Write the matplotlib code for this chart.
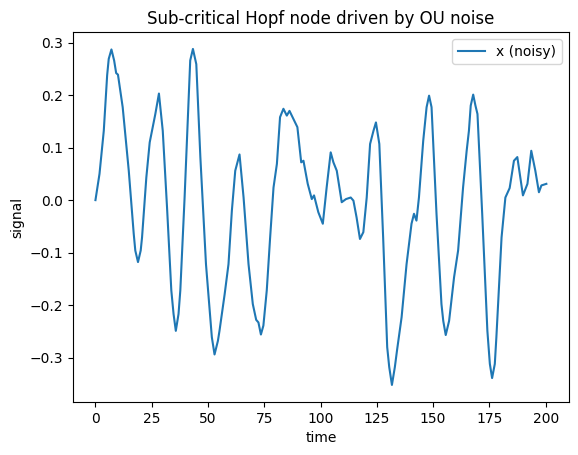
import matplotlib
matplotlib.use("Agg")
import matplotlib.pyplot as plt

# points
t = [0, 1.8, 3.7, 5.2, 5.9, 7.1, 8.3, 9.2, 10.0, 12.1, 14.8, 17.0, 17.7, 18.9, 20.1,
     20.7, 22.6, 24.1, 26.6, 28.2, 29.9, 31.8, 33.7, 34.7, 35.7, 36.9, 37.7, 39.6,
     41.4, 42.1, 43.3, 44.3, 44.8, 46.6, 49.1, 51.7, 52.9, 54.4, 55.1, 57.4, 59.1,
     60.6, 62.1, 64.0, 65.8, 68.0, 69.9, 71.4, 72.4, 73.5, 74.6, 76.1, 77.6, 79.1,
     80.6, 82.0, 83.5, 85.0, 86.2, 87.9, 89.7, 91.4, 92.4, 94.3, 96.1, 97.1, 99.0,
     101.0, 102.7, 104.5, 105.7, 107.2, 109.4, 111.3, 113.4, 114.6, 116.0, 117.5,
     119.0, 120.5, 122.0, 123.5, 124.6, 126.1, 127.8, 129.6, 130.5, 131.7, 133.0,
     134.0, 136.0, 138.2, 140.4, 141.5, 142.6, 143.7, 145.6, 147.1, 148.2, 149.3,
     151.5, 153.7, 154.5, 155.6, 157.1, 159.3, 161.1, 163.3, 164.9, 165.9, 166.7,
     167.8, 168.8, 169.7, 171.8, 174.1, 175.2, 176.2, 177.4, 178.1, 180.4, 182.1,
     184.0, 185.9, 187.4, 189.9, 191.9, 193.6, 195.4, 197.0, 198.1, 200.3]
x = [0.0, 0.05, 0.132, 0.238, 0.269, 0.287, 0.266, 0.242, 0.239, 0.177, 0.056, -0.064,
     -0.096, -0.118, -0.096, -0.071, 0.043, 0.110, 0.164, 0.203, 0.132, -0.014,
     -0.172, -0.217, -0.249, -0.217, -0.172, 0.005, 0.196, 0.266, 0.288, 0.269,
     0.259, 0.082, -0.122, -0.261, -0.294, -0.268, -0.249, -0.179, -0.122, -0.020,
     0.056, 0.087, 0.005, -0.122, -0.198, -0.228, -0.233, -0.256, -0.239, -0.172,
     -0.071, 0.024, 0.069, 0.158, 0.174, 0.161, 0.170, 0.155, 0.139, 0.072, 0.075,
     0.031, 0.002, 0.009, -0.023, -0.045, 0.024, 0.091, 0.072, 0.056, -0.004, 0.002,
     0.005, -0.001, -0.033, -0.074, -0.061, 0.005, 0.107, 0.132, 0.148, 0.107, -0.071,
     -0.280, -0.318, -0.352, -0.318, -0.285, -0.223, -0.122, -0.045, -0.026, -0.039,
     0.005, 0.113, 0.177, 0.199, 0.177, -0.026, -0.198, -0.230, -0.257, -0.230,
     -0.147, -0.096, 0.024, 0.094, 0.132, 0.180, 0.201, 0.180, 0.164, -0.026, -0.249,
     -0.312, -0.339, -0.312, -0.261, -0.071, 0.005, 0.023, 0.075, 0.082, 0.009, 0.031,
     0.094, 0.056, 0.015, 0.028, 0.031]

fig, ax = plt.subplots(figsize=(6.4, 4.8), dpi=100)
ax.plot(t, x, label="x (noisy)")
ax.set_title("Sub-critical Hopf node driven by OU noise")
ax.set_xlabel("time")
ax.set_ylabel("signal")
ax.legend(loc="upper right")
fig.savefig("out.png", bbox_inches="tight")
